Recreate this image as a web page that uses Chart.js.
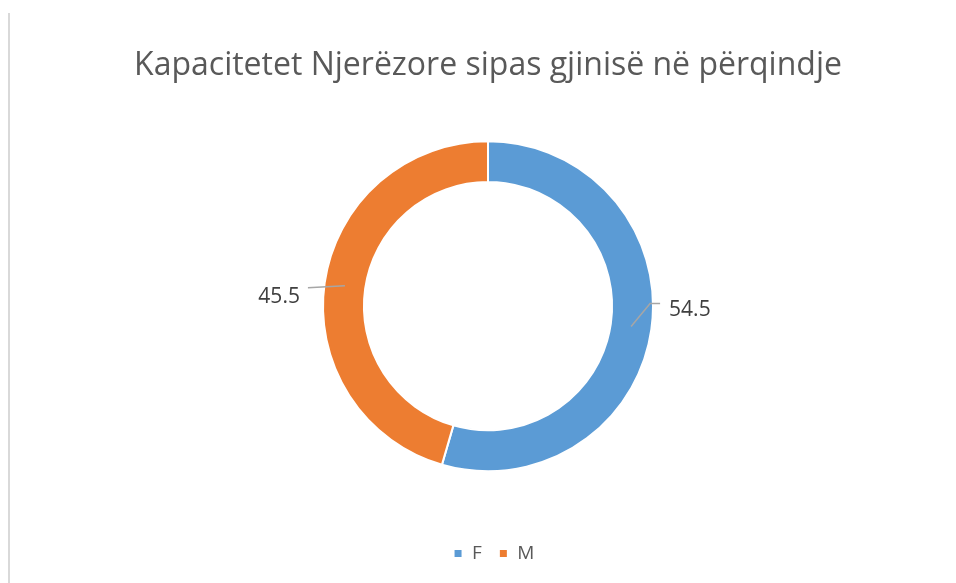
<!DOCTYPE html>
<html>
<head>
<meta charset="utf-8">
<script src="https://cdn.jsdelivr.net/npm/chart.js@4"></script>
<style>
  html, body { margin: 0; padding: 0; background: #fff; }
  #wrap { position: relative; width: 956px; height: 583px; }
  #edge { position: absolute; left: 8px; top: 13px; width: 2px; bottom: 0; background: #d9d9d9; }
  canvas { position: absolute; left: 0; top: 0; }
</style>
</head>
<body>
<div id="wrap">
  <div id="edge"></div>
  <canvas id="chart" width="956" height="583"></canvas>
</div>
<script>
const title = "Kapacitetet Njerëzore sipas gjinisë në përqindje";
const labels = ["F", "M"];
const values = [54.5, 45.5];
const colors = ["#5b9bd5", "#ed7d31"];

// leader lines + value labels, placed from each arc's own geometry
const leaderLabels = {
  id: "leaderLabels",
  afterDatasetsDraw(chart) {
    const ctx = chart.ctx;
    const arcs = chart.getDatasetMeta(0).data;
    ctx.save();
    ctx.font = "21px 'Open Sans'";
    ctx.fillStyle = "#404040";
    ctx.strokeStyle = "#a6a6a6";
    ctx.lineWidth = 1.5;
    ctx.textBaseline = "middle";
    arcs.forEach((arc, i) => {
      const p = arc.getProps(["x", "y", "startAngle", "endAngle", "innerRadius", "outerRadius"], true);
      const a = (p.startAngle + p.endAngle) / 2;
      const r = (p.innerRadius + p.outerRadius) / 2;
      const px = p.x + Math.cos(a) * r;
      const py = p.y + Math.sin(a) * r;
      const txt = String(values[i]);
      ctx.beginPath();
      if (Math.cos(a) >= 0) {
        ctx.moveTo(px, py);
        ctx.lineTo(px + 19, py - 23);
        ctx.lineTo(px + 29, py - 23);
        ctx.stroke();
        ctx.textAlign = "left";
        ctx.fillText(txt, px + 38, py - 17);
      } else {
        ctx.moveTo(px, py);
        ctx.lineTo(px - 37, py + 2);
        ctx.stroke();
        ctx.textAlign = "right";
        ctx.fillText(txt, px - 45, py + 11);
      }
    });
    ctx.restore();
  }
};

// nudge the legend a little to the right, like the original
const legendNudge = {
  id: "legendNudge",
  afterLayout(chart) {
    chart.legend.left += 6;
    chart.legend.right += 6;
  }
};

const ctx = document.getElementById("chart").getContext("2d");
new Chart(ctx, {
  type: "doughnut",
  data: {
    labels: labels,
    datasets: [{
      data: values,
      backgroundColor: colors,
      borderColor: "#ffffff",
      borderWidth: 2,
      radius: 165
    }]
  },
  options: {
    responsive: false,
    animation: false,
    cutout: "75.2%",
    layout: { padding: { left: 20, right: 0, top: 0, bottom: 10 } },
    plugins: {
      title: {
        display: true,
        text: title,
        color: "#595959",
        font: { family: "'Open Sans'", size: 32, weight: "normal", lineHeight: 1.2 },
        padding: { top: 47, bottom: 0 }
      },
      legend: {
        position: "bottom",
        labels: {
          color: "#595959",
          font: { family: "'Open Sans'", size: 19 },
          boxWidth: 9,
          boxHeight: 9,
          padding: 17
        }
      },
      tooltip: { enabled: false }
    }
  },
  plugins: [leaderLabels, legendNudge]
});
</script>
</body>
</html>
